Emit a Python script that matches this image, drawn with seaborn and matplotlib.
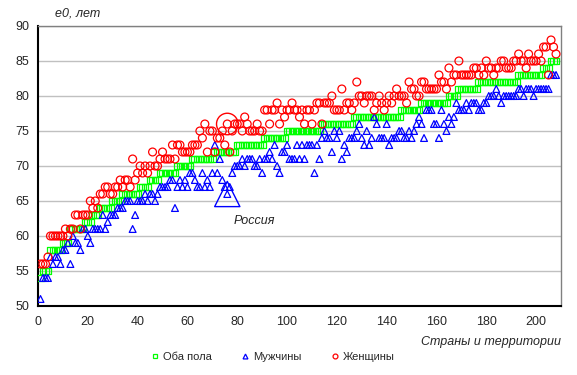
import numpy as np
import pandas as pd
import matplotlib
matplotlib.use("Agg")
import matplotlib.pyplot as plt
from matplotlib.lines import Line2D
import seaborn as sns

# ---- data (countries sorted by life expectancy, both sexes) ----
both = [
    54, 55, 55, 55, 58, 58, 58, 58, 58, 59,
    59, 59, 61, 61, 61, 61, 61, 61, 62, 62,
    62, 63, 63, 63, 64, 64, 64, 64, 64, 65,
    65, 65, 65, 66, 66, 66, 66, 66, 66, 66,
    67, 67, 67, 67, 68, 68, 68, 68, 69, 69,
    69, 69, 69, 69, 69, 70, 70, 70, 70, 70,
    70, 71, 71, 71, 71, 71, 71, 71, 71, 71,
    72, 72, 72, 72, 72, 72, 72, 72, 72, 73,
    73, 73, 73, 73, 73, 73, 73, 73, 73, 73,
    74, 74, 74, 74, 74, 74, 74, 74, 74, 75,
    75, 75, 75, 75, 75, 75, 75, 75, 75, 75,
    75, 75, 75, 76, 76, 76, 76, 76, 76, 76,
    76, 76, 76, 76, 76, 76, 77, 77, 77, 77,
    77, 77, 77, 77, 77, 77, 77, 77, 77, 77,
    77, 77, 77, 77, 77, 78, 78, 78, 78, 78,
    78, 78, 78, 79, 79, 79, 79, 79, 79, 79,
    79, 79, 79, 79, 80, 80, 80, 80, 81, 81,
    81, 81, 81, 81, 81, 81, 82, 82, 82, 82,
    82, 82, 82, 82, 82, 82, 82, 82, 82, 82,
    82, 82, 83, 83, 83, 83, 83, 83, 83, 83,
    83, 83, 84, 84, 84, 85, 85, 85,
]
male = [
    51, 54, 54, 54, 57, 56, 57, 57, 56, 58,
    58, 59, 56, 60, 59, 59, 58, 61, 61, 60,
    59, 61, 61, 61, 61, 63, 61, 62, 63, 63,
    63, 64, 64, 64, 65, 65, 65, 61, 63, 65,
    65, 65, 66, 65, 66, 66, 65, 66, 67, 67,
    67, 67, 68, 68, 64, 67, 68, 67, 68, 67,
    69, 69, 68, 67, 67, 69, 67, 68, 67, 69,
    73, 69, 71, 68, 67, 66, 67, 69, 70, 70,
    70, 71, 70, 71, 71, 71, 70, 70, 71, 69,
    71, 71, 72, 71, 73, 70, 69, 72, 72, 73,
    71, 71, 71, 73, 71, 73, 71, 73, 73, 73,
    69, 73, 71, 74, 75, 74, 74, 72, 75, 74,
    75, 71, 73, 72, 74, 74, 74, 75, 76, 74,
    73, 75, 73, 74, 77, 76, 74, 74, 74, 76,
    73, 74, 74, 74, 75, 75, 74, 74, 75, 74,
    75, 76, 77, 76, 74, 78, 78, 78, 76, 76,
    74, 78, 76, 75, 77, 76, 77, 79, 78, 78,
    78, 79, 78, 79, 79, 79, 78, 78, 79, 79,
    80, 80, 80, 81, 80, 79, 80, 80, 80, 80,
    80, 80, 81, 81, 80, 81, 81, 81, 80, 81,
    81, 81, 81, 81, 81, 83, 83, 83,
]
female = [
    56, 56, 56, 57, 60, 60, 60, 60, 60, 60,
    61, 60, 61, 61, 63, 63, 61, 63, 63, 63,
    65, 64, 65, 64, 66, 66, 67, 67, 66, 66,
    67, 67, 68, 67, 68, 68, 67, 71, 68, 69,
    70, 69, 70, 69, 70, 72, 70, 70, 71, 72,
    71, 71, 71, 73, 71, 73, 73, 72, 72, 72,
    72, 73, 73, 73, 75, 74, 76, 72, 75, 75,
    72, 74, 74, 75, 73, 76, 72, 75, 76, 76,
    76, 75, 77, 76, 75, 75, 75, 76, 75, 75,
    78, 78, 76, 78, 78, 79, 76, 78, 77, 78,
    78, 79, 78, 78, 77, 78, 76, 78, 78, 76,
    78, 79, 79, 76, 79, 79, 79, 80, 78, 78,
    78, 81, 78, 79, 79, 78, 79, 82, 80, 80,
    79, 80, 80, 80, 78, 79, 80, 79, 78, 79,
    80, 79, 80, 81, 80, 80, 80, 79, 82, 81,
    81, 80, 80, 82, 82, 81, 81, 81, 81, 81,
    83, 82, 82, 81, 84, 82, 83, 83, 85, 83,
    83, 83, 83, 83, 84, 84, 83, 84, 83, 85,
    84, 84, 83, 84, 84, 85, 85, 84, 84, 84,
    85, 85, 86, 85, 85, 84, 86, 85, 85, 85,
    86, 85, 87, 87, 83, 88, 87, 86,
]
russia_rank = 76
russia_male = 66
russia_female = 76
series_labels = ["Оба пола", "Мужчины", "Женщины"]
y_ticks = [50, 55, 60, 65, 70, 75, 80, 85, 90]
x_ticks = [0, 20, 40, 60, 80, 100, 120, 140, 160, 180, 200]

rank = list(range(1, len(both) + 1))
df = pd.DataFrame({"rank": rank, "both": both, "male": male, "female": female})

sns.set_style("white")
plt.rcParams["font.family"] = ["Liberation Sans", "DejaVu Sans"]

fig = plt.figure(figsize=(5.77, 3.75), dpi=100)
ax = fig.add_axes([38 / 577, 1 - 306 / 375, (561 - 38) / 577, (306 - 26) / 375])

GREEN, BLUE, RED = "#00ff00", "#0000ff", "#ff0000"
ms = 24
sns.scatterplot(data=df, x="rank", y="both", marker="s", s=ms, color=GREEN,
                facecolor="none", edgecolor=GREEN, linewidth=0.9, ax=ax, zorder=3)
sns.scatterplot(data=df, x="rank", y="male", marker="^", s=ms, color=BLUE,
                facecolor="none", edgecolor=BLUE, linewidth=0.9, ax=ax, zorder=3)
sns.scatterplot(data=df, x="rank", y="female", marker="o", s=ms + 8, color=RED,
                facecolor="none", edgecolor=RED, linewidth=0.9, ax=ax, zorder=3)
# Russia highlighted
sns.scatterplot(x=[russia_rank], y=[russia_male], marker="^", s=330, color=BLUE,
                facecolor="none", edgecolor=BLUE, linewidth=1.0, ax=ax, zorder=4)
sns.scatterplot(x=[russia_rank], y=[russia_female], marker="o", s=240, color=RED,
                facecolor="none", edgecolor=RED, linewidth=1.0, ax=ax, zorder=4)
ax.text(87, 62.2, "Россия", fontsize=9, style="italic", ha="center", va="center")

ax.set_xlim(0, 210)
ax.set_ylim(50, 90)
ax.set_xticks(x_ticks)
ax.set_yticks(y_ticks)
ax.set_xlabel("")
ax.set_ylabel("")
ax.tick_params(axis="both", length=0, labelsize=9)
ax.tick_params(axis="y", pad=6)
ax.tick_params(axis="x", pad=7)
ax.yaxis.grid(True, color="#c0c0c0", linewidth=1.0)
ax.xaxis.grid(False)
ax.set_axisbelow(True)
for s in ["left", "bottom"]:
    ax.spines[s].set_color("black")
    ax.spines[s].set_linewidth(1.5)
for s in ["top", "right"]:
    ax.spines[s].set_color("#808080")
    ax.spines[s].set_linewidth(1.0)

fig.text(55 / 577, 1 - 13 / 375, "e0, лет", fontsize=9, style="italic",
         ha="left", va="center")
fig.text(561 / 577, 1 - 342 / 375, "Страны и территории", fontsize=9,
         style="italic", ha="right", va="center")

handles = [
    Line2D([], [], marker="s", ls="none", markersize=3.5, markerfacecolor="none",
           markeredgecolor=GREEN, markeredgewidth=0.9),
    Line2D([], [], marker="^", ls="none", markersize=3.5, markerfacecolor="none",
           markeredgecolor=BLUE, markeredgewidth=0.9),
    Line2D([], [], marker="o", ls="none", markersize=3.5, markerfacecolor="none",
           markeredgecolor=RED, markeredgewidth=0.9),
]
fig.legend(handles, series_labels, loc="center", bbox_to_anchor=(273 / 577, 1 - 357 / 375),
           ncol=3, frameon=False, fontsize=8, handlelength=0.6, handletextpad=0.4,
           columnspacing=2.7, borderpad=0)

fig.savefig("out.png", dpi=100)
